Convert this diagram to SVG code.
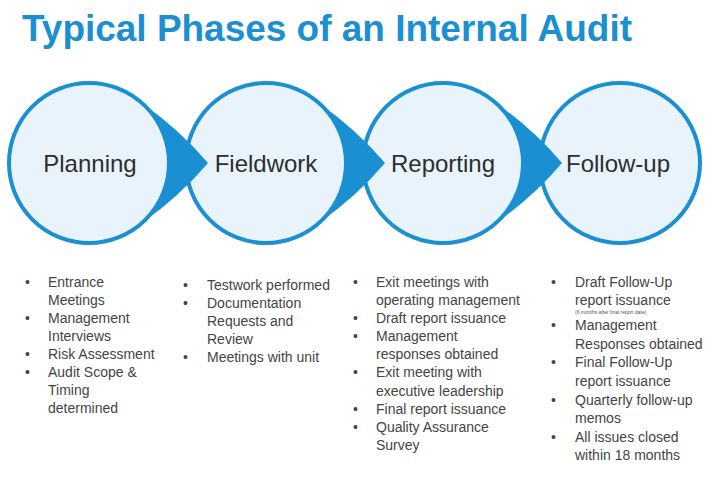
<svg xmlns="http://www.w3.org/2000/svg" width="720" height="480" viewBox="0 0 720 480">
<style>
.bg{fill:#ffffff}
.title{font-family:"Liberation Sans",Arial,sans-serif;font-size:36px;font-weight:bold;fill:#1c8fd1}
.phase{fill:#e8f3fb;stroke:#1a8fd1;stroke-width:4}
.tip{fill:#1a8fd1;stroke:none}
.label{font-family:"Liberation Sans",Arial,sans-serif;font-size:24px;fill:#2e2e2e;text-anchor:middle}
.item{font-family:"Liberation Sans",Arial,sans-serif;font-size:14px;fill:#444444}
.note{font-family:"Liberation Sans",Arial,sans-serif;font-size:5px;fill:#555555}
</style>
<rect class="bg" x="0" y="0" width="720" height="480"/>
<text class="title" x="22" y="41" textLength="610" lengthAdjust="spacingAndGlyphs">Typical Phases of an Internal Audit</text>

<g id="planning">
<circle class="phase" cx="89" cy="163" r="80"/>
<text class="label" x="90" y="172">Planning</text>
</g>
<g id="fieldwork">
<circle class="phase" cx="266" cy="163" r="80"/>
<text class="label" x="266" y="172">Fieldwork</text>
</g>
<g id="reporting">
<circle class="phase" cx="443" cy="163" r="80"/>
<text class="label" x="443" y="172">Reporting</text>
</g>
<g id="followup">
<circle class="phase" cx="620" cy="163" r="80"/>
<text class="label" x="618" y="172">Follow-up</text>
</g>

<g id="connectors">
<path class="tip" d="M142.8,103.7 Q179,129 208,163 Q179,197 142.8,222.3 A80,80 0 0 0 142.8,103.7 Z"/>
<path class="tip" d="M319.8,103.7 Q356,129 385,163 Q356,197 319.8,222.3 A80,80 0 0 0 319.8,103.7 Z"/>
<path class="tip" d="M496.8,103.7 Q533,129 562,163 Q533,197 496.8,222.3 A80,80 0 0 0 496.8,103.7 Z"/>
</g>

<g id="planning-list" class="item">
<text x="25" y="287">•</text><text x="48" y="287">Entrance</text>
<text x="48" y="305">Meetings</text>
<text x="25" y="323">•</text><text x="48" y="323">Management</text>
<text x="48" y="341">Interviews</text>
<text x="25" y="359">•</text><text x="48" y="359">Risk Assessment</text>
<text x="25" y="377">•</text><text x="48" y="377">Audit Scope &amp;</text>
<text x="48" y="395">Timing</text>
<text x="48" y="413">determined</text>
</g>

<g id="fieldwork-list" class="item">
<text x="183" y="290">•</text><text x="207" y="290">Testwork performed</text>
<text x="183" y="308">•</text><text x="207" y="308">Documentation</text>
<text x="207" y="326">Requests and</text>
<text x="207" y="344">Review</text>
<text x="183" y="362">•</text><text x="207" y="362">Meetings with unit</text>
</g>

<g id="reporting-list" class="item">
<text x="353" y="287">•</text><text x="376" y="287">Exit meetings with</text>
<text x="376" y="305">operating management</text>
<text x="353" y="323">•</text><text x="376" y="323">Draft report issuance</text>
<text x="353" y="341">•</text><text x="376" y="341">Management</text>
<text x="376" y="359">responses obtained</text>
<text x="353" y="377">•</text><text x="376" y="377">Exit meeting with</text>
<text x="376" y="396">executive leadership</text>
<text x="353" y="414">•</text><text x="376" y="414">Final report issuance</text>
<text x="353" y="432">•</text><text x="376" y="432">Quality Assurance</text>
<text x="376" y="450">Survey</text>
</g>

<g id="followup-list" class="item">
<text x="551" y="287">•</text><text x="575" y="287">Draft Follow-Up</text>
<text x="575" y="305">report issuance</text>
<text class="note" x="575" y="314">(6 months after final report date)</text>
<text x="551" y="330">•</text><text x="575" y="330">Management</text>
<text x="575" y="349">Responses obtained</text>
<text x="551" y="367">•</text><text x="575" y="367">Final Follow-Up</text>
<text x="575" y="386">report issuance</text>
<text x="551" y="405">•</text><text x="575" y="405">Quarterly follow-up</text>
<text x="575" y="423">memos</text>
<text x="551" y="442">•</text><text x="575" y="442">All issues closed</text>
<text x="575" y="460">within 18 months</text>
</g>
</svg>
